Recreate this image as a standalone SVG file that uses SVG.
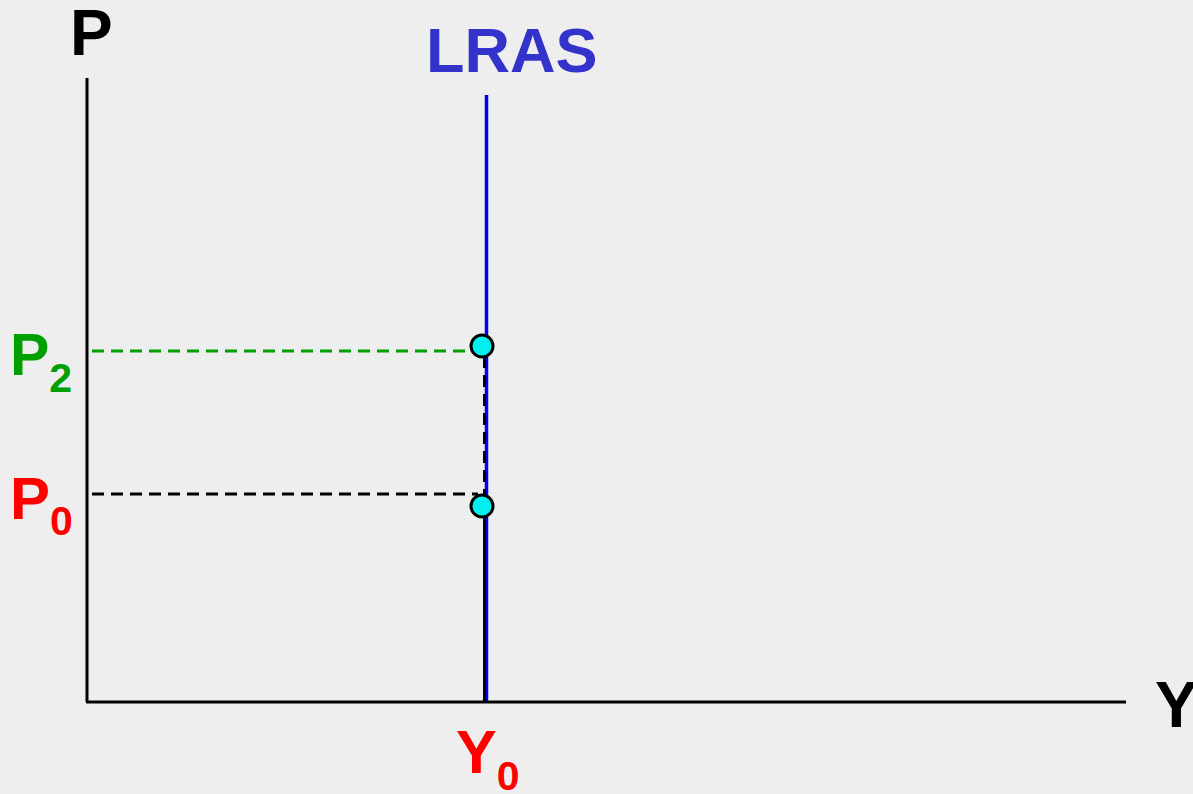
<svg xmlns="http://www.w3.org/2000/svg" width="1193" height="794" viewBox="0 0 1193 794">
<style>
.lbl{font-family:"Liberation Sans",Arial,sans-serif;font-weight:bold}
.axis{stroke:#000;stroke-width:3;fill:none}
.dash{stroke-width:3;stroke-dasharray:12,7;fill:none}
.dot{fill:#00F0F0;stroke:#000;stroke-width:3}
</style>
<rect width="1193" height="794" fill="#EEEEEE"/>
<g id="connectors">
<line id="lras-line" x1="486.5" y1="95" x2="486.5" y2="702" stroke="#0000EE" stroke-width="3.5"/>
<line x1="484.5" y1="356" x2="484.5" y2="505" class="dash" stroke="#000"/>
<line x1="484.5" y1="505" x2="484.5" y2="702" stroke="#000" stroke-width="3"/>
<line x1="92" y1="351" x2="472" y2="351" class="dash" stroke="#00A000"/>
<line x1="92" y1="494" x2="478" y2="494" class="dash" stroke="#000"/>
</g>
<g id="axes">
<line x1="87" y1="78" x2="87" y2="702" class="axis"/>
<line x1="86" y1="702" x2="1126" y2="702" class="axis"/>
</g>
<g id="point-p2"><circle cx="482" cy="346" r="11" class="dot"/></g>
<g id="point-p0"><circle cx="482" cy="506" r="11" class="dot"/></g>
<g id="label-p"><text x="70" y="55" class="lbl" font-size="64" fill="#000">P</text></g>
<g id="label-lras"><text x="426" y="72" class="lbl" font-size="63" fill="#3333CC">LRAS</text></g>
<g id="label-y"><text x="1155" y="727" class="lbl" font-size="64" fill="#000">Y</text></g>
<g id="label-p2"><text x="10" y="375" class="lbl" font-size="59" fill="#00A000">P<tspan font-size="41" dy="17">2</tspan></text></g>
<g id="label-p0"><text x="10" y="519" class="lbl" font-size="60" fill="#FF0000">P<tspan font-size="41" dy="16">0</tspan></text></g>
<g id="label-y0"><text x="456" y="773" class="lbl" font-size="61" fill="#FF0000">Y<tspan font-size="41" dy="17">0</tspan></text></g>
</svg>
